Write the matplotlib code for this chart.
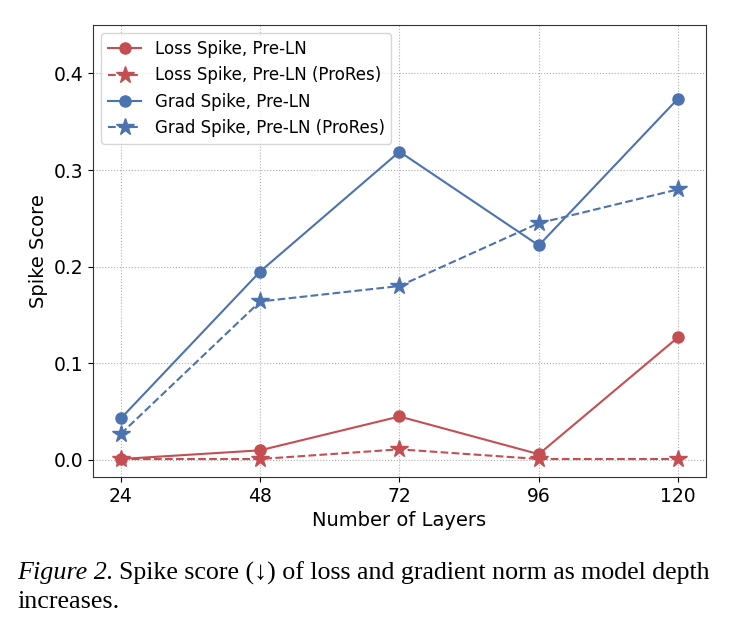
import matplotlib
matplotlib.use("Agg")
import matplotlib.pyplot as plt

layers = [24, 48, 72, 96, 120]
loss_preln = [0.001, 0.010, 0.045, 0.006, 0.127]
loss_preln_prores = [0.001, 0.001, 0.011, 0.001, 0.001]
grad_preln = [0.043, 0.195, 0.319, 0.222, 0.374]
grad_preln_prores = [0.027, 0.164, 0.180, 0.245, 0.280]
yticks = [0.0, 0.1, 0.2, 0.3, 0.4]

red = "#C44E52"
blue = "#4C72B0"

fig = plt.figure(figsize=(7.35, 6.33), dpi=100)
ax = fig.add_axes([0.1265, 0.2464, 0.834, 0.714])

ax.plot(layers, loss_preln, color=red, marker="o", markersize=8, lw=1.5, label="Loss Spike, Pre-LN")
ax.plot(layers, loss_preln_prores, color=red, marker="*", markersize=13, lw=1.5, ls="--", label="Loss Spike, Pre-LN (ProRes)")
ax.plot(layers, grad_preln, color=blue, marker="o", markersize=8, lw=1.5, label="Grad Spike, Pre-LN")
ax.plot(layers, grad_preln_prores, color=blue, marker="*", markersize=13, lw=1.5, ls="--", label="Grad Spike, Pre-LN (ProRes)")

ax.set_xticks(layers)
ax.set_yticks(yticks)
ax.set_ylim(top=0.45)
ax.tick_params(labelsize=13.5)
ax.set_xlabel("Number of Layers", fontsize=14, labelpad=4)
ax.set_ylabel("Spike Score", fontsize=14)
ax.grid(True, ls=":", color="#b0b0b0", lw=0.8)
ax.set_axisbelow(True)
for s in ax.spines.values():
    s.set_color("#333333")
ax.legend(loc="upper left", fontsize=12, framealpha=0.8, borderaxespad=0.5)

serif = ["Liberation Serif", "DejaVu Serif"]
t1 = fig.text(0.024, 0.085, "Figure 2.", fontsize=18.8, family=serif, style="italic", va="baseline")
fig.canvas.draw()
bb = t1.get_window_extent(renderer=fig.canvas.get_renderer())
x2 = (bb.x1 + 5) / fig.bbox.width
fig.text(x2, 0.085, "Spike score (\u2193) of loss and gradient norm as model depth", fontsize=18.6,
         family=serif, va="baseline")
fig.text(0.024, 0.040, "increases.", fontsize=18.8, family=serif, va="baseline")

fig.savefig("out.png", dpi=100)
